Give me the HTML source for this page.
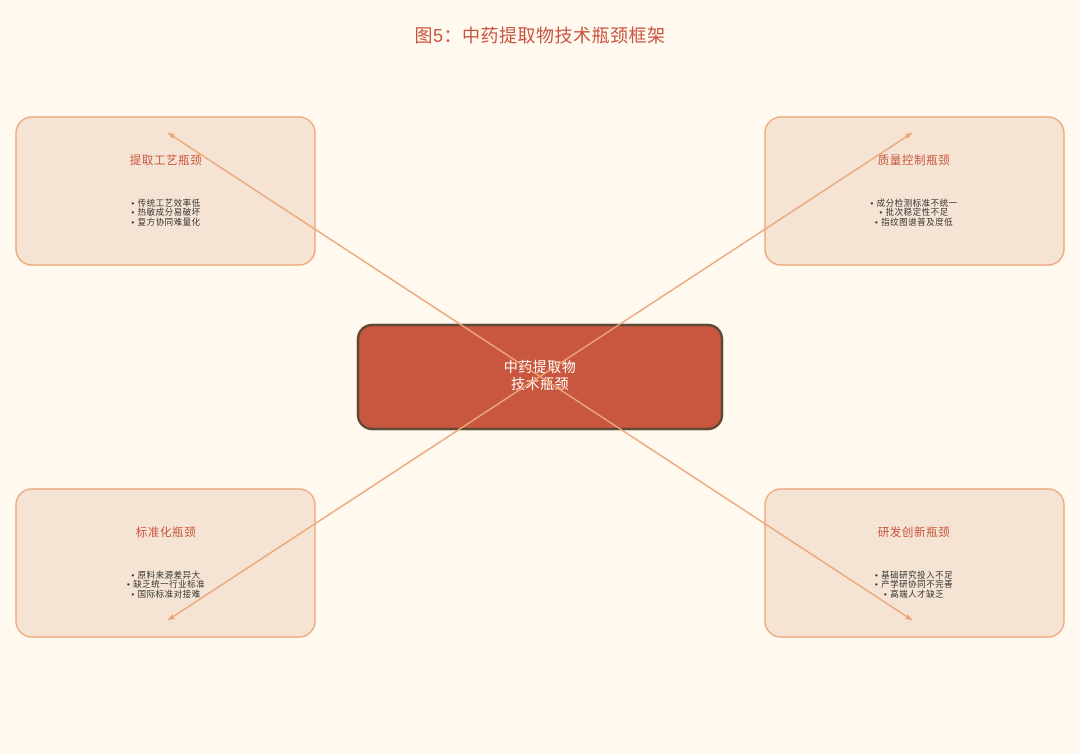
<!DOCTYPE html>
<html><head><meta charset="utf-8"><style>
body{margin:0;background:#fff9ef;}
svg{display:block}
text{font-family:"Liberation Sans","Noto Sans CJK SC",sans-serif;}
</style></head><body>
<svg width="1080" height="754" viewBox="0 0 1080 754" xmlns="http://www.w3.org/2000/svg">
<rect width="1080" height="754" fill="#fff9ef"/>
<text x="540" y="42" text-anchor="middle" font-size="18" fill="#c9553f" letter-spacing="0.5">图5：中药提取物技术瓶颈框架</text>
<g fill="#f5e4d3" stroke="#eeaa80" stroke-width="1.5">
<rect x="16" y="117" width="299" height="148" rx="16"/>
<rect x="765" y="117" width="299" height="148" rx="16"/>
<rect x="16" y="489" width="299" height="148" rx="16"/>
<rect x="765" y="489" width="299" height="148" rx="16"/>
</g>
<rect x="358" y="325" width="364" height="104" rx="14" fill="#c9573f" stroke="#5f4a35" stroke-width="2.5"/>
<text x="540" y="372" text-anchor="middle" font-size="14" fill="#fff" letter-spacing="0.5">中药提取物</text>
<text x="540" y="389" text-anchor="middle" font-size="14" fill="#fff" letter-spacing="0.5">技术瓶颈</text>
<g font-size="11.5" fill="#c9553f" text-anchor="middle" letter-spacing="0.6">
<text x="166" y="164">提取工艺瓶颈</text>
<text x="914" y="164">质量控制瓶颈</text>
<text x="166" y="536">标准化瓶颈</text>
<text x="914" y="536">研发创新瓶颈</text>
</g>
<g font-size="8.5" fill="#333" text-anchor="middle" letter-spacing="0.5">
<text x="166" y="206">• 传统工艺效率低</text><text x="166" y="215">• 热敏成分易破坏</text><text x="166" y="225">• 复方协同难量化</text>
<text x="914" y="206">• 成分检测标准不统一</text><text x="914" y="215">• 批次稳定性不足</text><text x="914" y="225">• 指纹图谱普及度低</text>
<text x="166" y="578">• 原料来源差异大</text><text x="166" y="587">• 缺乏统一行业标准</text><text x="166" y="597">• 国际标准对接难</text>
<text x="914" y="578">• 基础研究投入不足</text><text x="914" y="587">• 产学研协同不完善</text><text x="914" y="597">• 高端人才缺乏</text>
</g>
<g stroke="#eca67a" stroke-width="1.5" fill="none">
<line x1="168" y1="133" x2="912" y2="620"/>
<line x1="912" y1="133" x2="168" y2="620"/>
</g>
<g fill="#eca67a">
<polygon points="168,133 175,134 172,139"/>
<polygon points="912,133 905,134 908,139"/>
<polygon points="168,620 175,619 172,614"/>
<polygon points="912,620 905,619 908,614"/>
</g>
</svg>
</body></html>
